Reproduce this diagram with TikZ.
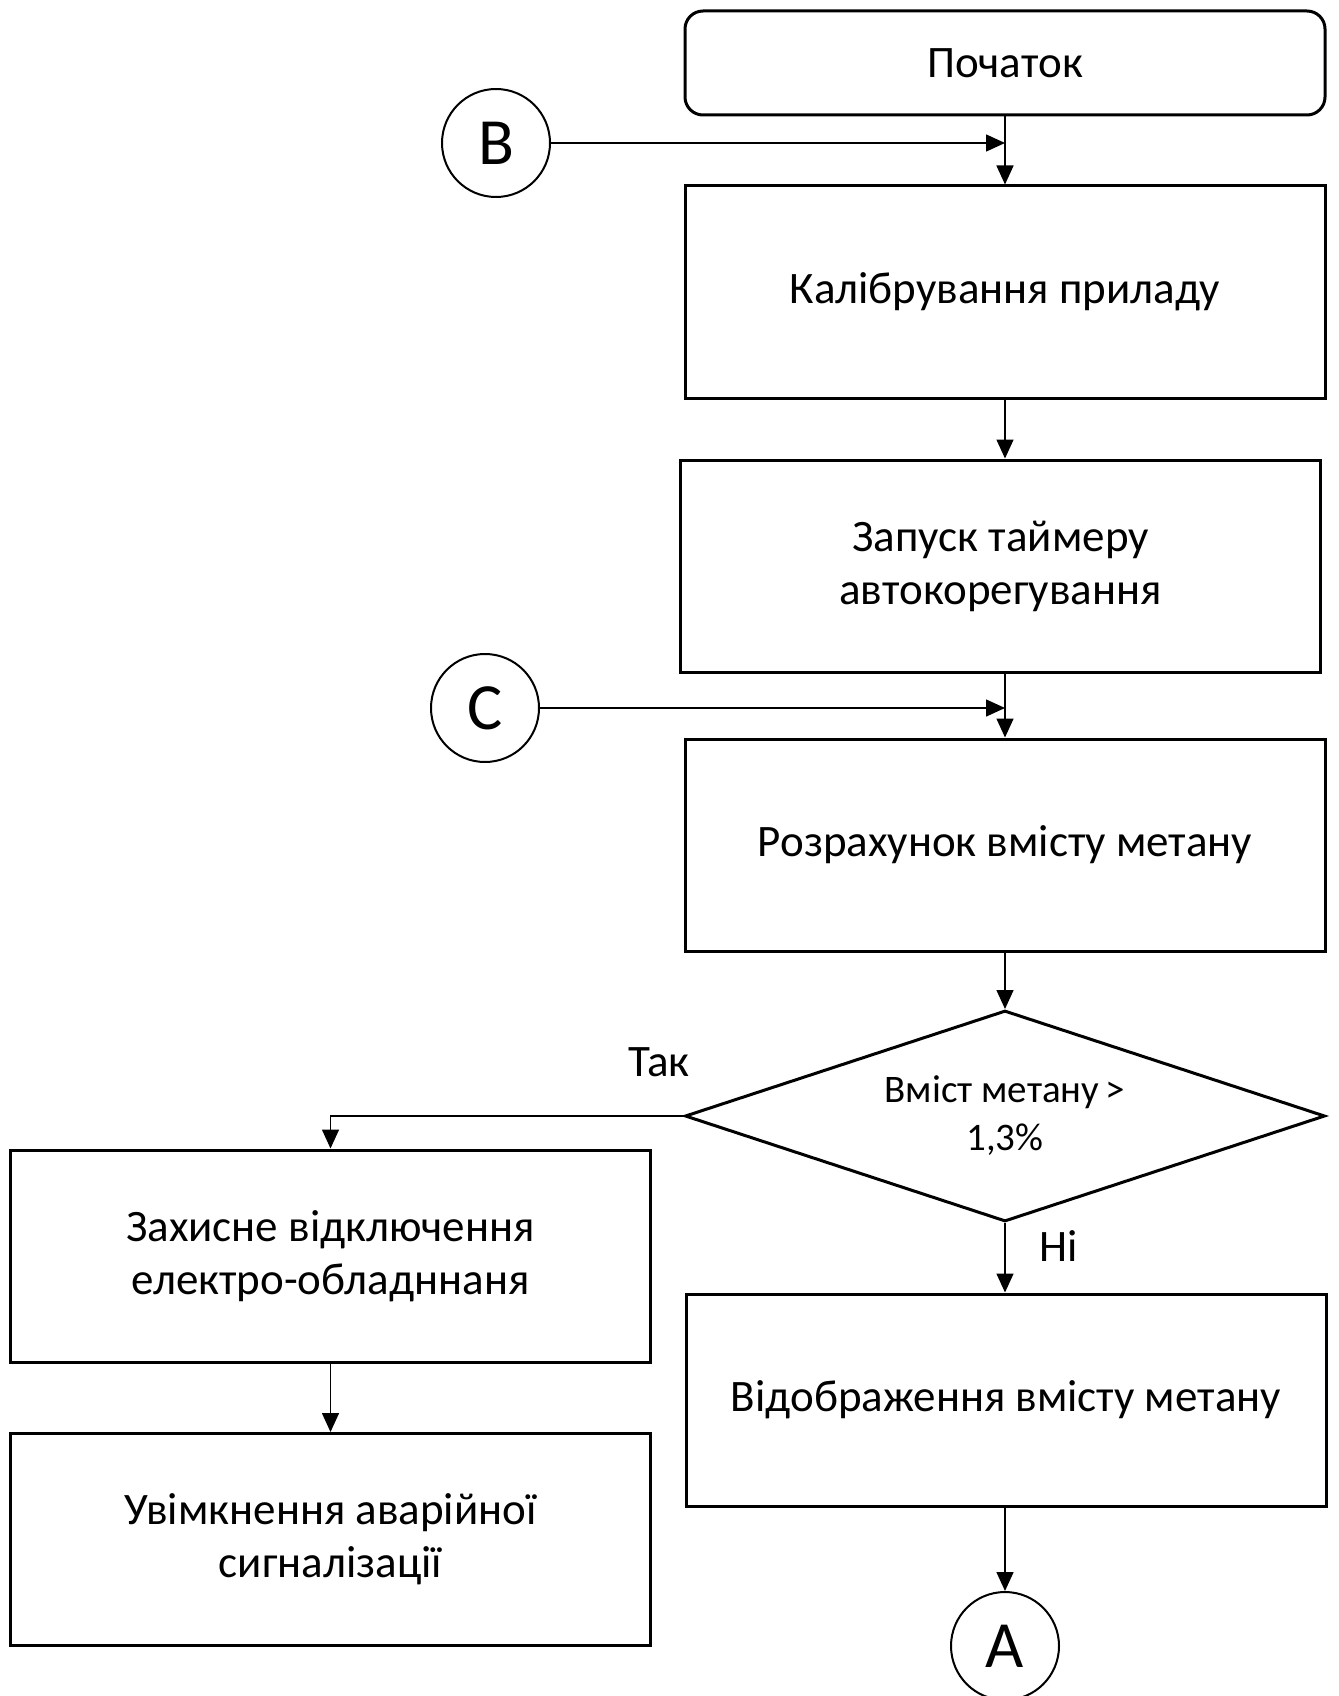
\documentclass[tikz,border=0pt]{standalone}
\usepackage{fontspec}
\setmainfont{Carlito}
\usetikzlibrary{shapes.geometric,arrows.meta}
\begin{document}
\begin{tikzpicture}[x=0.5pt,y=-0.5pt,
  box/.style={draw,line width=1.5pt,minimum width=320pt,minimum height=106pt,align=center,inner sep=0pt,font=\fontsize{22.5}{26.5}\selectfont},
  term/.style={box,rounded corners=9pt,minimum height=52pt},
  dec/.style={draw,diamond,aspect=3.03,line width=1.5pt,minimum width=320pt,minimum height=105.5pt,align=center,inner sep=0pt,font=\fontsize{19.5}{24}\selectfont},
  conn/.style={draw,circle,line width=1pt,minimum size=54pt,inner sep=0pt,font=\fontsize{33}{33}\selectfont},
  arr/.style={line width=0.75pt,-{Triangle[length=9.5pt,width=8.5pt]}},
  lbl/.style={font=\fontsize{22.5}{26.5}\selectfont}]
\useasboundingbox (0,0) rectangle (1338,1696);
\node[term] (start) at (1005,63) {Початок};
\node[box] (calib) at (1005,292) {Калібрування приладу};
\node[box] (timer) at (1000.5,566) {Запуск таймеру\\автокорегування};
\node[box] (calc) at (1005,845) {Розрахунок вмісту метану};
\node[dec] (dec) at (1005,1116) {Вміст метану\,>\\1,3\%};
\node[box] (prot) at (330.5,1256) {Захисне відключення\\електро-обладннаня};
\node[box] (alarm) at (330.5,1539.5) {Увімкнення аварійної\\сигналізації};
\node[box] (disp) at (1006,1400) {Відображення вмісту метану};
\node[conn] (B) at (496,143) {B};
\node[conn] (C) at (485,708) {C};
\node[conn] (A) at (1005,1646) {A};
\coordinate (bj) at (1005,143);
\coordinate (cj) at (1005,708);
\node[lbl] (tak) at (659,1062) {Так};
\node[lbl] (ni) at (1059,1246) {Ні};
\draw[arr] (start.south) -- (calib.north);
\draw[arr] (B.east) -- (bj);
\draw[arr] (calib.south) -- (calib.south |- timer.north);
\draw[arr] (calc.north |- timer.south) -- (calc.north);
\draw[arr] (C.east) -- (cj);
\draw[arr] (calc.south) -- (dec.north);
\draw[arr] (dec.west) -| (prot.north);
\draw[arr] (dec.south) -- (dec.south |- disp.north);
\draw[arr] (prot.south) -- (alarm.north);
\draw[arr] (disp.south -| A.north) -- (A.north);
\end{tikzpicture}
\end{document}
